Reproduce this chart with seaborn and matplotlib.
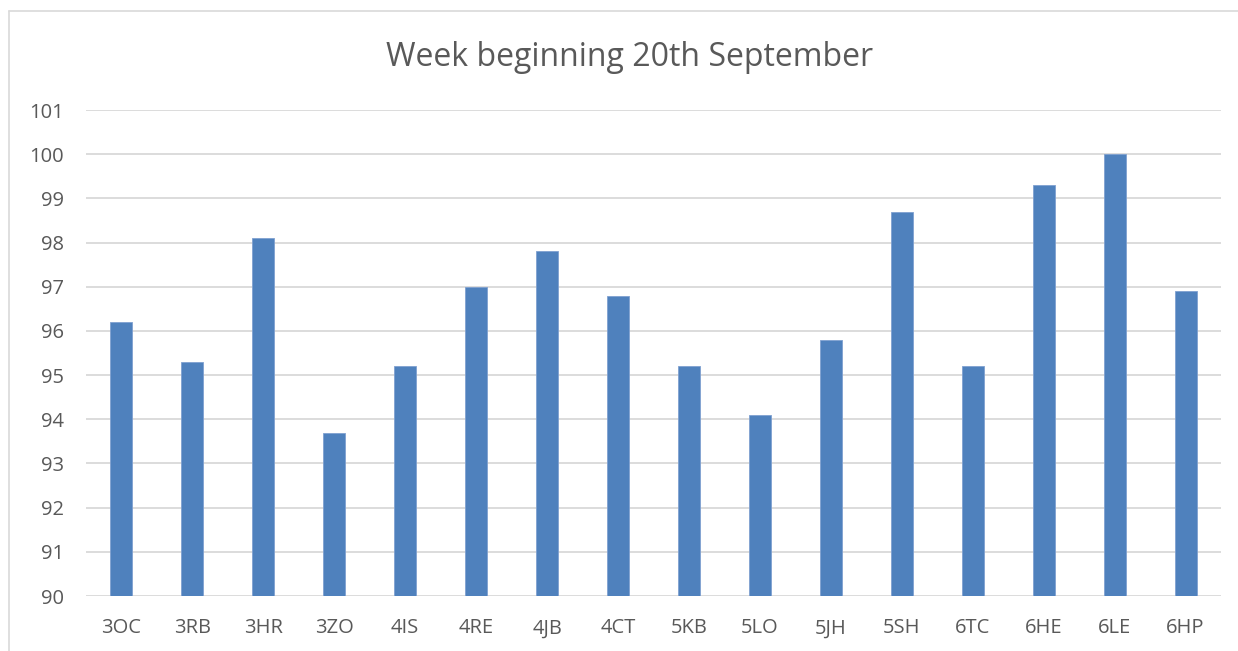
import matplotlib
matplotlib.use("Agg")
import matplotlib.pyplot as plt
import seaborn as sns
import pandas as pd
from matplotlib.lines import Line2D

categories = ["3OC", "3RB", "3HR", "3ZO", "4IS", "4RE", "4JB", "4CT",
              "5KB", "5LO", "5JH", "5SH", "6TC", "6HE", "6LE", "6HP"]
values = [96.2, 95.3, 98.1, 93.7, 95.2, 97.0, 97.8, 96.8,
          95.2, 94.1, 95.8, 98.7, 95.2, 99.3, 100.0, 96.9]
yticks = list(range(90, 102))
title = "Week beginning 20th September"

sns.set_theme(style="white")
plt.rcParams["font.family"] = ["Open Sans", "DejaVu Sans"]

W, H = 1238, 651
fig = plt.figure(figsize=(W / 100, H / 100), dpi=100)
ax = fig.add_axes([86 / W, 1 - 596 / H, (1221 - 86) / W, (596 - 110) / H])

df = pd.DataFrame({"cat": categories, "val": values})
sns.barplot(data=df, x="cat", y="val", ax=ax, color="#4F81BD", width=0.31,
            saturation=1, edgecolor="#7FA0D0", linewidth=0.6, zorder=3)

ax.set_ylim(90, 101)
ax.set_yticks(yticks)
ax.set_xlim(-0.5, len(categories) - 0.5)
ax.yaxis.grid(True, color="#D9D9D9", linewidth=1.3, zorder=0)
ax.set_axisbelow(True)
for s in ax.spines.values():
    s.set_visible(False)
ax.set_xlabel("")
ax.set_ylabel("")
ax.tick_params(axis="both", length=0, labelsize=14.5, colors="#595959")
ax.tick_params(axis="y", pad=16)
ax.tick_params(axis="x", pad=16)

fig.text(630 / W, 1 - 57 / H, title, ha="center", va="center",
         fontsize=23, color="#595959")

# outer chart border (top and left visible)
fig.add_artist(Line2D([9 / W, 1], [1 - 11 / H, 1 - 11 / H], transform=fig.transFigure,
                      color="#D9D9D9", linewidth=1.2))
fig.add_artist(Line2D([9 / W, 9 / W], [0, 1 - 11 / H], transform=fig.transFigure,
                      color="#D9D9D9", linewidth=1.2))

fig.savefig("out.png", dpi=100, facecolor="white")
